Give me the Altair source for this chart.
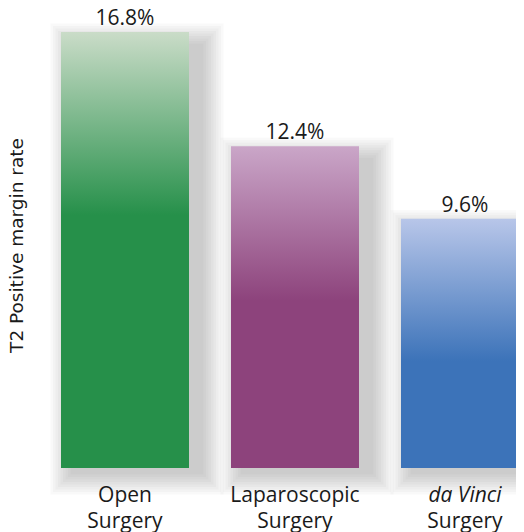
import altair as alt
import pandas as pd

procedures = ["Open Surgery", "Laparoscopic Surgery", "da Vinci Surgery"]
rates = [16.8, 12.4, 9.6]
slots = [0, 1, 2]
line1 = ["Open", "Laparoscopic", "da Vinci"]
line2 = ["Surgery", "Surgery", "Surgery"]
italic_first = [False, False, True]
tops = ["#cadcc8", "#caa6c8", "#b8c6e9"]
solids = ["#26904a", "#8d437c", "#3c73b9"]
stops = [0.42, 0.48, 0.57]

df = pd.DataFrame({
    "procedure": procedures,
    "rate": rates,
    "slot": slots,
    "line1": line1,
    "line2": line2,
    "italic": italic_first,
    "label": [f"{r:.1f}%" for r in rates],
})

FONT = "Open Sans"
W = 508
xs = alt.Scale(domain=[-117 / 170, (W - 117) / 170], padding=0, nice=False, zero=False)
ys = alt.Scale(domain=[0, 16.8 * 460 / 436], padding=0, nice=False)

base = alt.Chart(df)

x_enc = alt.X("slot:Q", scale=xs, axis=None)
y_enc = alt.Y("rate:Q", scale=ys,
              axis=alt.Axis(title="T2 Positive margin rate", labels=False, ticks=False,
                            domain=False, grid=False, titleFont="DejaVu Sans", titleFontSize=18.5,
                            titleFontWeight="normal", titleColor="#1a1a1a",
                            titleX=8, titleY=237, titleAngle=270, titleAlign="center",
                            titleBaseline="middle"))

layers = []
# soft drop-shadow approximation (stacked translucent rects)
for k in range(1, 10):
    spread = k * 2.5
    layers.append(
        base.mark_bar(width=128 + 2 * spread, color="#40404c", opacity=0.03,
                      xOffset=12, yOffset=14 - spread, y2Offset=4 + spread)
        .encode(x=x_enc, y=y_enc, y2=alt.datum(0))
    )

for i, p in enumerate(procedures):
    grad = alt.Gradient(
        gradient="linear", x1=0, y1=0, x2=0, y2=1,
        stops=[alt.GradientStop(color=tops[i], offset=0),
               alt.GradientStop(color=solids[i], offset=stops[i]),
               alt.GradientStop(color=solids[i], offset=1)])
    layers.append(
        base.transform_filter(alt.datum.procedure == p)
        .mark_bar(width=128, color=grad)
        .encode(x=x_enc, y=y_enc, y2=alt.datum(0))
    )

layers.append(
    base.mark_text(font=FONT, fontSize=21, color="#1a1a1a", baseline="alphabetic", dy=-7)
    .encode(x=x_enc, y=y_enc, text="label:N")
)
# two-line labels (upright) as one multi-line text
layers.append(
    base.transform_filter("!datum.italic")
    .transform_calculate(lines="[datum.line1, datum.line2]")
    .mark_text(font=FONT, fontSize=21, color="#1a1a1a", baseline="alphabetic",
               dy=34, lineHeight=25.5)
    .encode(x=x_enc, y=alt.datum(0, scale=ys), text="lines:N")
)
# italic first line + upright second line
layers.append(
    base.transform_filter("datum.italic")
    .mark_text(font=FONT, fontSize=21, fontStyle="italic", color="#1a1a1a",
               baseline="alphabetic", dy=34)
    .encode(x=x_enc, y=alt.datum(0, scale=ys), text="line1:N")
)
layers.append(
    base.transform_filter("datum.italic")
    .mark_text(font=FONT, fontSize=21, color="#1a1a1a", baseline="alphabetic", dy=59.5)
    .encode(x=x_enc, y=alt.datum(0, scale=ys), text="line2:N")
)

chart = alt.layer(*layers).properties(
    width=W, height=460,
    autosize=alt.AutoSizeParams(type="none"),
    padding={"left": 0, "top": 0, "right": 0, "bottom": 64},
).configure(background="white").configure_view(stroke=None, strokeWidth=0)

chart.save("out.html", embed_options={"renderer": "svg", "actions": False})
